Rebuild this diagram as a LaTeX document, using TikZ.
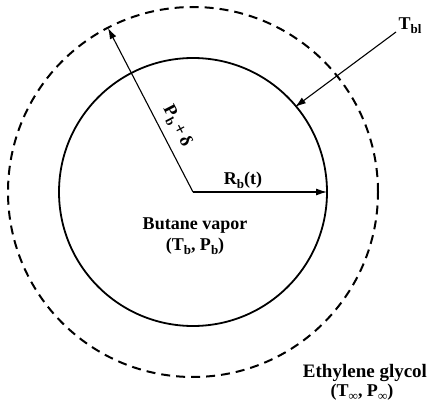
\documentclass[tikz,border=0pt]{standalone}
\usepackage{fontspec}
\setmainfont{Liberation Serif}
\usetikzlibrary{arrows.meta}
\newcommand\sbs[1]{\raisebox{-0.45ex}{\fontsize{13}{13}\selectfont #1}}
\tikzset{
  lbl/.style={font=\fontsize{18}{20}\selectfont\bfseries, inner sep=0pt, align=center},
  bubble/.style={line width=1.8pt},
  film/.style={line width=2pt, dash pattern=on 9pt off 6pt},
  dimarrow/.style={line width=1.1pt, -{Latex[length=11pt,width=7pt]}}
}
\begin{document}
\begin{tikzpicture}[x=1pt,y=-1pt]
\useasboundingbox (0,0) rectangle (428,406);
\coordinate (O) at (193,192);
\coordinate (A) at (108,28);
\coordinate (B) at (327,192);
\coordinate (T0) at (396,32);
\coordinate (T1) at (295,107);
\draw[bubble] (O) circle[radius=134pt];
\draw[film] (O) circle[radius=185pt];
\draw[dimarrow] (O) -- (A);
\draw[dimarrow] (O) -- (B);
\draw[dimarrow] (T0) -- (T1);
\node[lbl, rotate=-62.6] (pl) at (177,126) {P\sbs{b}\,+\,δ};
\node[lbl] (rl) at (243,180) {R\sbs{b}(t)};
\node[lbl] (tl) at (410,26) {T\sbs{bl}};
\node[lbl] (bv) at (195,226) {Butane vapor};
\node[lbl] (bt) at (195,246) {(T\sbs{b}, P\sbs{b})};
\node[lbl, font=\fontsize{19}{20}\selectfont\bfseries] (eg) at (365,373) {Ethylene glycol};
\node[lbl] (et) at (362,392) {(T\sbs{∞}, P\sbs{∞})};
\end{tikzpicture}
\end{document}
